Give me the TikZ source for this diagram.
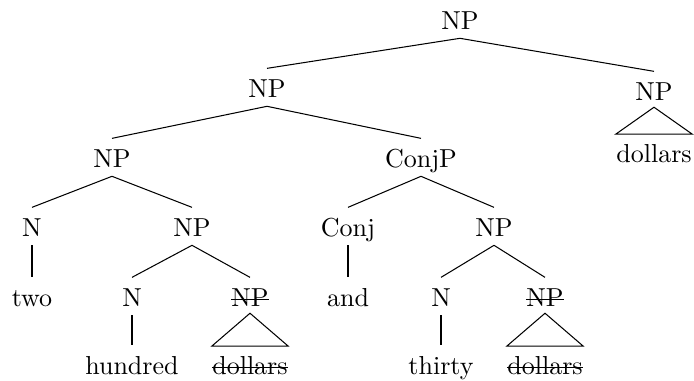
\documentclass[tikz,border=0pt]{standalone}
\begin{document}
\begin{tikzpicture}[x=0.3846pt,y=-0.3846pt,
  lbl/.style={anchor=base,inner sep=0pt},
  br/.style={line width=0.4pt}]
\useasboundingbox (0,0) rectangle (694,381);
% nodes
\node[lbl] (root) at (460,30) {NP};
\node[lbl] (np2) at (267,98) {NP};
\node[lbl] (npr) at (654,101) {NP};
\node[lbl] (np3) at (112,168) {NP};
\node[lbl] (conjp) at (421,168) {ConjP};
\node[lbl] (n1) at (32,237) {N};
\node[lbl] (np4) at (192,237) {NP};
\node[lbl] (conj) at (348,237) {Conj};
\node[lbl] (np5) at (494,237) {NP};
\node[lbl] (two) at (32,307) {two};
\node[lbl] (n2) at (132,307) {N};
\node[lbl] (npx1) at (250,307) {NP};
\node[lbl] (and) at (348,307) {and};
\node[lbl] (n3) at (441,307) {N};
\node[lbl] (npx2) at (545,307) {NP};
\node[lbl] (hundred) at (132,375) {hundred};
\node[lbl] (dol1) at (250,375) {dollars};
\node[lbl] (thirty) at (441,375) {thirty};
\node[lbl] (dol2) at (545,375) {dollars};
\node[lbl] (dolr) at (654,163) {dollars};
% branches
\foreach \p/\c in {root/np2,root/npr,np2/np3,np2/conjp,np3/n1,np3/np4,conjp/conj,conjp/np5,
  n1/two,np4/n2,np4/npx1,conj/and,np5/n3,np5/npx2,n2/hundred,n3/thirty}
  \draw[br] ([yshift=-3.2pt]\p.base) -- ([yshift=11.4pt]\c.base);
% triangles
\foreach \p/\c in {npx1/dol1,npx2/dol2,npr/dolr}
  \draw[br] ([yshift=-2.4pt]\p.base) -- ([yshift=11.1pt]\c.base west) -- ([yshift=11.1pt]\c.base east) -- cycle;
% strike-outs
\foreach \s in {npx1,npx2,dol1,dol2}
  \draw[br] ([yshift=2.9pt]\s.base west) -- ([yshift=2.9pt]\s.base east);
\end{tikzpicture}
\end{document}
